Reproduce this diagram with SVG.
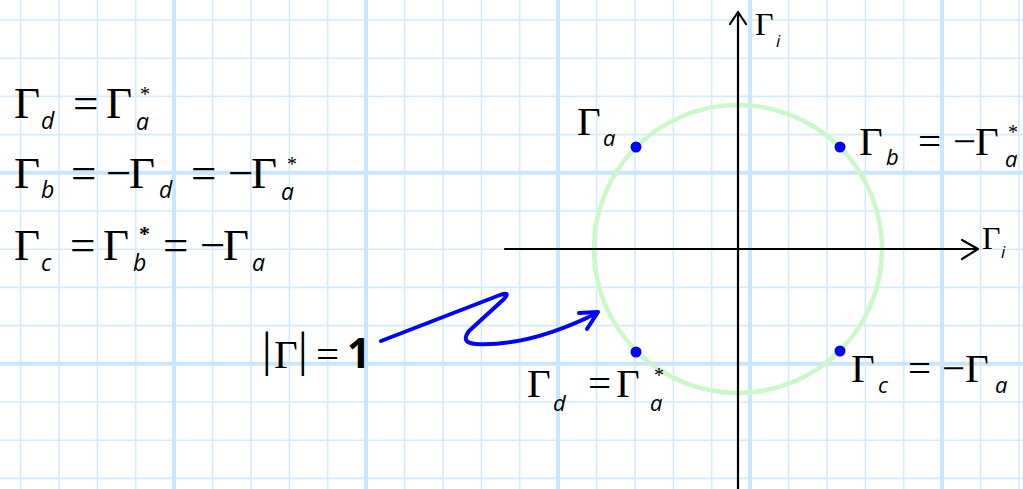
<svg xmlns="http://www.w3.org/2000/svg" width="1023" height="489" viewBox="0 0 1023 489">
<style>
.bg{fill:#ffffff}
.gt{stroke:#d3ebff;stroke-width:1.6;fill:none}
.gT{stroke:#c9e6ff;stroke-width:4;fill:none}
.ax{stroke:#000;stroke-width:2.2;fill:none;stroke-linecap:round;stroke-linejoin:round}
.circ{fill:none;stroke:#c9f9c9;stroke-width:4.5}
.pt{fill:#0000ff}
text{fill:#000}
.G{font-family:"Liberation Serif",serif;font-size:45px}
.Gr{font-family:"Liberation Serif",serif;font-size:41px}
.Ga{font-family:"Liberation Serif",serif;font-size:32px}
.s{font-family:"Open Sans",sans-serif;font-style:italic;font-size:23px}
.sr{font-family:"Open Sans",sans-serif;font-style:italic;font-size:22px}
.si{font-family:"Open Sans",sans-serif;font-style:italic;font-size:17px}
.st{font-family:"Liberation Serif",serif;font-size:20px;font-style:normal}
.one{font-family:"Open Sans",sans-serif;font-weight:bold;font-size:41px}
.bar{font-family:"Liberation Serif",serif;font-size:48px}
.arr{fill:none;stroke:#0000ff;stroke-width:4;stroke-linecap:round;stroke-linejoin:round}
</style>
<rect class="bg" x="0" y="0" width="1023" height="489"/>
<g id="grid">
<path class="gt" d="M20.5,0V489M58.9,0V489M97.3,0V489M135.7,0V489M212.5,0V489M250.9,0V489M289.3,0V489M327.7,0V489M404.5,0V489M442.9,0V489M481.3,0V489M519.7,0V489M596.5,0V489M634.9,0V489M673.3,0V489M711.7,0V489M788.5,0V489M826.9,0V489M865.3,0V489M903.7,0V489M980.5,0V489M1018.9,0V489"/>
<path class="gt" d="M0,20H1023M0,58.2H1023M0,96.4H1023M0,134.6H1023M0,211H1023M0,249.2H1023M0,287.4H1023M0,325.6H1023M0,402H1023M0,440.2H1023M0,478.4H1023"/>
<path class="gT" d="M174.1,0V489M366.1,0V489M558.1,0V489M750.1,0V489M942.1,0V489M0,172.8H1023M0,363.8H1023"/>
</g>
<g id="circle">
<circle class="circ" cx="738" cy="249" r="144"/>
</g>
<g id="axes">
<path class="ax" d="M505,249H977M962,240L978,249L962,259"/>
<path class="ax" d="M738,489V12M730,24L738,12L746,24"/>
<text class="Ga" x="755" y="35">Γ<tspan class="si" x="776" y="47">i</tspan></text>
<text class="Ga" x="982" y="249">Γ<tspan class="si" x="1001" y="258">i</tspan></text>
</g>
<g id="equations">
<text class="G" x="14" y="118">Γ<tspan class="s" x="41" y="129">d</tspan><tspan x="73" y="118">=</tspan><tspan x="106" y="118">Γ</tspan><tspan class="st" x="140" y="101">*</tspan><tspan class="s" x="136" y="130">a</tspan></text>
<text class="G" x="14" y="188">Γ<tspan class="s" x="41" y="198">b</tspan><tspan x="71" y="188">=</tspan><tspan x="106" y="188">−</tspan><tspan x="129" y="188">Γ</tspan><tspan class="s" x="159" y="198">d</tspan><tspan x="191" y="188">=</tspan><tspan x="228" y="188">−</tspan><tspan x="251" y="188">Γ</tspan><tspan class="st" x="287" y="171">*</tspan><tspan class="s" x="281" y="200">a</tspan></text>
<text class="G" x="14" y="260">Γ<tspan class="s" x="41" y="271">c</tspan><tspan x="70" y="260">=</tspan><tspan x="103" y="260">Γ</tspan><tspan class="st" x="139" y="241" style="font-weight:bold;font-size:22px">*</tspan><tspan class="s" x="133" y="271">b</tspan><tspan x="163" y="260">=</tspan><tspan x="200" y="260">−</tspan><tspan x="223" y="260">Γ</tspan><tspan class="s" x="252" y="271">a</tspan></text>
</g>
<g id="point-a">
<circle class="pt" cx="636" cy="147" r="5.5"/>
<text class="Gr" x="577" y="135">Γ<tspan class="sr" x="603" y="146">a</tspan></text>
</g>
<g id="point-b">
<circle class="pt" cx="840" cy="147" r="5.5"/>
<text class="Gr" x="859" y="155">Γ<tspan class="sr" x="886" y="165">b</tspan><tspan x="918" y="155">=</tspan><tspan x="953" y="155">−</tspan><tspan x="975" y="155">Γ</tspan><tspan class="st" x="1008" y="139">*</tspan><tspan class="sr" x="1005" y="167">a</tspan></text>
</g>
<g id="point-c">
<circle class="pt" cx="840" cy="351" r="5.5"/>
<text class="Gr" x="851" y="382">Γ<tspan class="sr" x="878" y="393">c</tspan><tspan x="908" y="382">=</tspan><tspan x="942" y="382">−</tspan><tspan x="965" y="382">Γ</tspan><tspan class="sr" x="995" y="393">a</tspan></text>
</g>
<g id="point-d">
<circle class="pt" cx="636" cy="352" r="5.5"/>
<text class="Gr" x="527" y="397">Γ<tspan class="sr" x="553" y="411">d</tspan><tspan x="588" y="397">=</tspan><tspan x="616" y="397">Γ</tspan><tspan class="st" x="654" y="382">*</tspan><tspan class="sr" x="650" y="411">a</tspan></text>
</g>
<g id="magnitude-label">
<text class="bar" x="262" y="366">|<tspan class="Gr" x="274" y="368">Γ</tspan><tspan x="298" y="366">|</tspan><tspan class="Gr" x="316" y="368">=</tspan><tspan class="one" x="347" y="368">1</tspan></text>
</g>
<g id="connectors">
<path class="arr" d="M381,341 L500,295 Q511,291 504,299 L469,331 Q460,343 476,344 C517,346 557,333 597,313"/>
<path class="arr" d="M579,313 L598,312 L587,329"/>
</g>
</svg>
